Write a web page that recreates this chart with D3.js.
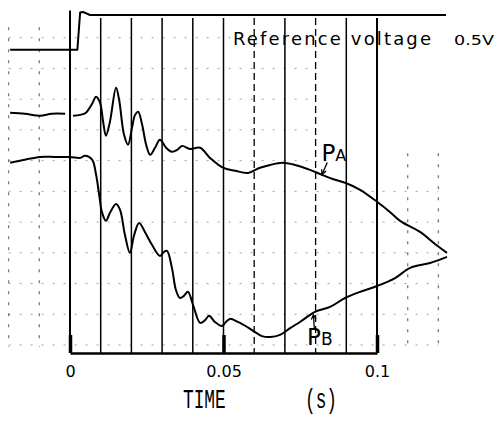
<!DOCTYPE html>
<html>
<head>
<meta charset="utf-8">
<script src="https://cdn.jsdelivr.net/npm/d3@7/dist/d3.min.js"></script>
<style>
  body { margin: 0; background: #fff; }
</style>
</head>
<body>
<div id="chart"></div>
<script>
// time in ms, amplitude in grid divisions above the time axis
const refTime = [-19.5, 2.4, 3.3, 4.2, 6.5, 122.5];
const refLevel = [9.87, 9.87, 11.08, 11.1, 11.0, 11.0];

// P_A before the trigger (trace is broken just before t = 0)
const paPreTime = [-19.5, -14.7, -9.8, -5.9, -1.6];
const paPreLevel = [7.82, 7.79, 7.72, 7.79, 7.79];

const paTime = [1.0, 3.3, 5.2, 7.2, 8.5, 9.8, 10.8, 11.7, 13.0, 15.0, 16.0, 17.6, 18.9, 20.2, 21.2, 22.2,
    23.5, 24.8, 26.1, 27.7, 29.3, 31.3, 33.2, 34.9, 36.5, 39.1, 42.4, 45.6, 49.8, 53.8, 58.0, 61.9,
    65.2, 69.1, 73.3, 78.2, 82.1, 86.3, 89.6, 94.5, 100, 104.2, 107.5, 114.0, 118.9, 122.8];
const paLevel = [7.72, 7.75, 7.82, 8.11, 8.34, 8.14, 7.52, 7.07, 7.52, 8.63, 8.24, 7.10, 6.78, 7.33, 7.75, 7.85,
    7.43, 6.78, 6.45, 6.68, 6.94, 6.68, 6.55, 6.61, 6.74, 6.64, 6.68, 6.35, 6.03, 5.93, 5.86, 6.03,
    6.12, 6.19, 6.12, 5.96, 5.80, 5.64, 5.54, 5.31, 4.92, 4.59, 4.30, 3.94, 3.55, 3.26];

const pbTime = [-19.5, -14.7, -9.8, -4.9, 0, 3.3, 4.9, 7.2, 8.5, 9.5, 10.4, 11.7, 13.0, 15.0, 16.3, 17.9,
    19.5, 20.9, 22.5, 24.4, 26.7, 29.3, 30.6, 31.6, 33.2, 34.5, 35.8, 37.1, 38.4, 40.1, 42.4, 44.0,
    45.3, 47.2, 49.5, 50.8, 52.1, 54.7, 58.3, 60.3, 62.5, 65.2, 68.4, 71.7, 74.9, 79.8, 84.7, 89.6,
    94.5, 100, 105.9, 110.8, 117.3, 122.8];
const pbLevel = [6.19, 6.29, 6.38, 6.38, 6.38, 6.35, 6.42, 6.29, 5.80, 5.15, 4.59, 4.30, 4.56, 4.85, 4.66, 3.84,
    3.26, 3.84, 4.23, 3.94, 3.52, 3.16, 3.29, 3.32, 2.77, 2.05, 1.79, 1.86, 1.99, 1.56, 0.98, 1.07,
    1.21, 1.01, 0.88, 1.01, 1.11, 1.01, 0.81, 0.68, 0.55, 0.52, 0.59, 0.81, 1.01, 1.34, 1.50, 1.79,
    1.99, 2.18, 2.44, 2.77, 2.93, 3.13];

const tickTimes = [0, 50, 100];
const solidGridTimes = [0, 10, 20, 30, 40, 50, 70, 90, 100];
const dashedGridTimes = [60, 80];
const faintGridTimes = [-20, -10, 110, 120];
const gridDivs = [0, 1, 2, 3, 4, 5, 6, 7, 8, 9, 10];

const w = 499, h = 430;
const GRID_SHIFT = 8; // horizontal chart-paper lines sit a bit above the axis

const x = d3.scaleLinear().domain([0, 100]).range([70, 377]);
const y = d3.scaleLinear().domain([0, 11]).range([353, 15]);

const svg = d3.select("#chart").append("svg")
    .attr("width", w)
    .attr("height", h)
    .style("background", "#fff");

// chart paper grid (faint, broken dots as on the recorder paper)
svg.append("g").selectAll("line")
    .data(gridDivs)
    .enter().append("line")
    .attr("x1", x(-20)).attr("x2", d => d > 5 ? x(80) : x(120))
    .attr("y1", d => y(d) - GRID_SHIFT).attr("y2", d => y(d) - GRID_SHIFT)
    .attr("stroke", "#333").attr("stroke-width", 1)
    .attr("stroke-dasharray", "2,9").attr("opacity", 0.45);

svg.append("g").selectAll("line")
    .data(faintGridTimes)
    .enter().append("line")
    .attr("x1", d => x(d)).attr("x2", d => x(d))
    .attr("y1", d => d > 100 ? y(6.5) : y(10.6)).attr("y2", y(0.2))
    .attr("stroke", "#222").attr("stroke-width", 1.3)
    .attr("stroke-dasharray", "3,8").attr("opacity", 0.6);

svg.append("g").selectAll("line")
    .data(solidGridTimes)
    .enter().append("line")
    .attr("x1", d => x(d)).attr("x2", d => x(d))
    .attr("y1", d => d == 0 ? y(11.15) : y(10.9)).attr("y2", y(0))
    .attr("stroke", "#000").attr("stroke-width", d => d == 0 || d == 100 ? 2 : 1.5);

svg.append("g").selectAll("line")
    .data(dashedGridTimes)
    .enter().append("line")
    .attr("x1", d => x(d)).attr("x2", d => x(d))
    .attr("y1", y(10.9)).attr("y2", y(0))
    .attr("stroke", "#000").attr("stroke-width", 1.3)
    .attr("stroke-dasharray", "7,4");

// time axis
const axis = svg.append("g")
    .attr("transform", "translate(0," + y(0) + ")")
    .call(d3.axisBottom(x)
        .tickValues(tickTimes)
        .tickSize(-18)
        .tickSizeOuter(0)
        .tickPadding(13)
        .tickFormat(d => d / 1000));
axis.select(".domain").attr("stroke", "#000").attr("stroke-width", 2.5);
axis.selectAll(".tick line").attr("stroke", "#000").attr("stroke-width", 3.5);
axis.selectAll(".tick text")
    .style("font-family", "'DejaVu Sans', sans-serif")
    .style("font-size", "16px")
    .attr("fill", "#000");

svg.append("text")
    .attr("transform", "translate(183,408) scale(0.66,1)")
    .style("font-family", "'Liberation Mono', monospace")
    .style("font-size", "27px")
    .text("TIME");
svg.append("text")
    .attr("transform", "translate(305,408) scale(0.66,1)")
    .style("font-family", "'Liberation Mono', monospace")
    .style("font-size", "27px")
    .text("(s)");

// traces
const line = d3.line()
    .x(d => x(d[0]))
    .y(d => y(d[1]));

function trace(ts, vs, c) {
    svg.append("path")
        .attr("d", line.curve(c || d3.curveCatmullRom.alpha(0.5))(d3.zip(ts, vs)))
        .attr("fill", "none")
        .attr("stroke", "#000")
        .attr("stroke-width", 2)
        .attr("stroke-linejoin", "round");
}

trace(refTime, refLevel, d3.curveLinear);
trace(paPreTime, paPreLevel);
trace(paTime, paLevel);
trace(pbTime, pbLevel);

// labels
svg.append("text")
    .attr("x", 233).attr("y", 45)
    .attr("textLength", 198).attr("lengthAdjust", "spacing")
    .style("font-family", "'DejaVu Sans', sans-serif")
    .style("font-size", "18px")
    .text("Reference voltage");
svg.append("text")
    .attr("x", 454).attr("y", 45)
    .attr("textLength", 40).attr("lengthAdjust", "spacingAndGlyphs")
    .style("font-family", "'DejaVu Sans', sans-serif")
    .style("font-size", "14px")
    .text("0.5V");

function label(main, sub, px, py, subSize) {
    const t = svg.append("text")
        .attr("x", px).attr("y", py)
        .style("font-family", "'DejaVu Sans', sans-serif")
        .style("font-size", "23px");
    t.append("tspan").text(main);
    t.append("tspan").style("font-size", subSize + "px").text(sub);
}
label("P", "A", x(81.9), y(6.26), 16);
label("P", "B", x(77.2), y(0.25), 17);

// arrows from labels to traces
function arrow(x1, y1, x2, y2) {
    svg.append("line")
        .attr("x1", x1).attr("y1", y1).attr("x2", x2).attr("y2", y2)
        .attr("stroke", "#000").attr("stroke-width", 1.3);
    const a = Math.atan2(y2 - y1, x2 - x1);
    const s = 5;
    svg.append("path")
        .attr("d", "M" + (x2 - s * Math.cos(a - 0.5)) + "," + (y2 - s * Math.sin(a - 0.5)) +
            "L" + x2 + "," + y2 +
            "L" + (x2 - s * Math.cos(a + 0.5)) + "," + (y2 - s * Math.sin(a + 0.5)))
        .attr("fill", "none").attr("stroke", "#000").attr("stroke-width", 1.3);
}
arrow(x(83.8), y(6.2), x(82.1), y(5.82));
arrow(x(79.6), y(0.75), x(79.3), y(1.24));
</script>
</body>
</html>
